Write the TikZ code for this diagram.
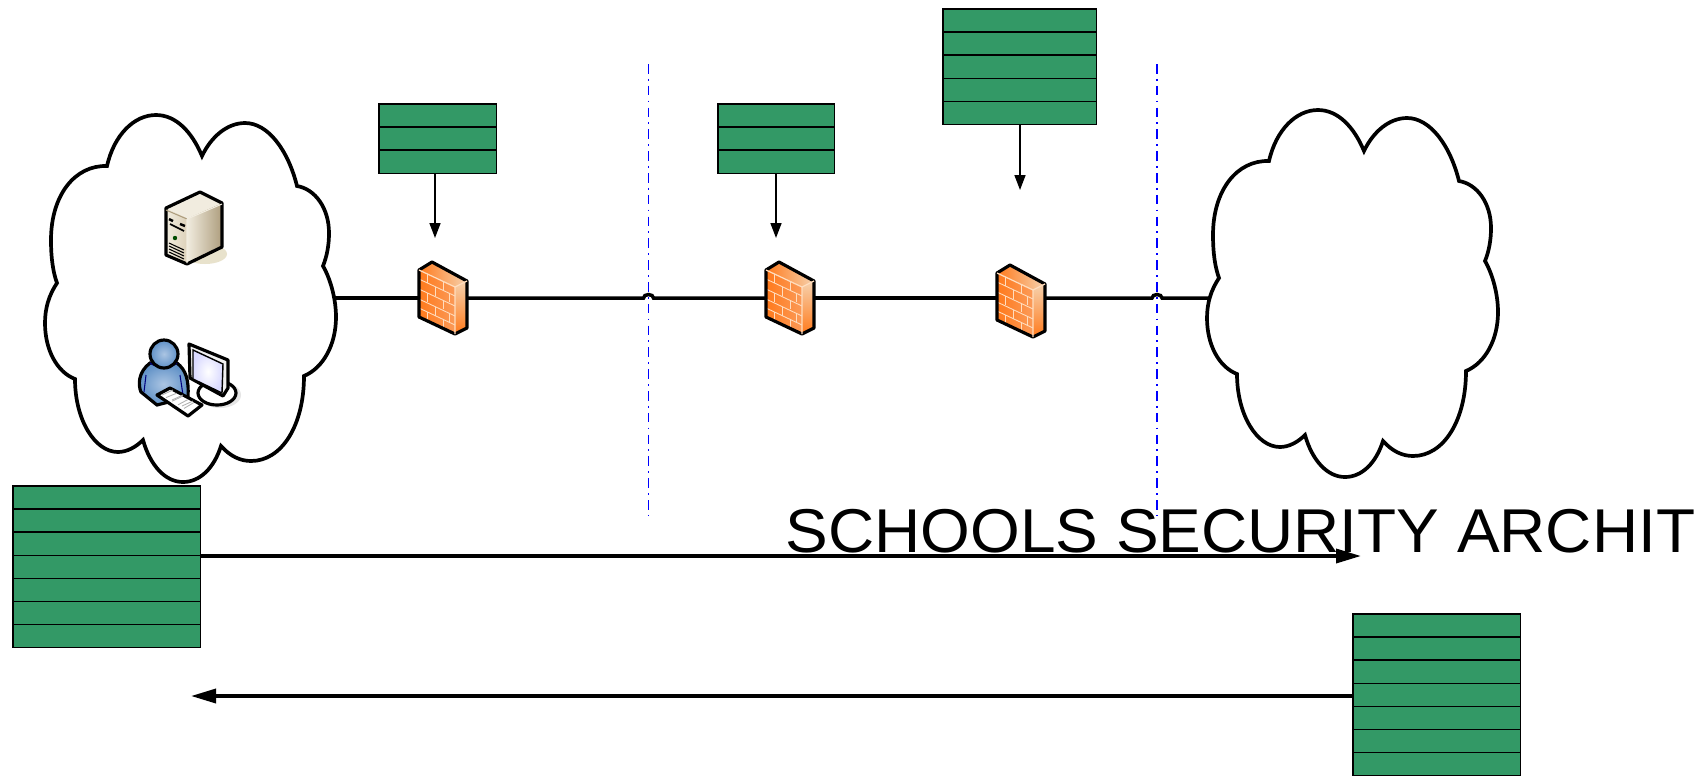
\documentclass[tikz,border=0pt]{standalone}
\usepackage{fontspec}
\setmainfont{Liberation Sans}
\usetikzlibrary{calc,arrows.meta,shapes.multipart}
\definecolor{stackgreen}{HTML}{339966}
\definecolor{fwdeep}{HTML}{FF7A1C}
\definecolor{fwmid}{HTML}{FB9A58}
\definecolor{fwpale}{HTML}{F6D2AE}
\definecolor{fwbrick}{HTML}{FFDDBE}
\definecolor{srvpale}{HTML}{F1ECDF}
\definecolor{srvmid}{HTML}{DDD2BA}
\definecolor{srvdark}{HTML}{AE9E7E}
\definecolor{srvshadow}{HTML}{E8E2CC}
\definecolor{userpale}{HTML}{ABC5E3}
\definecolor{userdeep}{HTML}{5F90C6}
\tikzset{
  cloudshape/.pic={
    \draw[cloudline] (202,156) .. controls (192,132) and (176,115) .. (156,115)
      .. controls (134,115) and (114,135) .. (107,166)
      .. controls (75,165) and (51,195) .. (51,240)
      .. controls (51,258) and (53,272) .. (57,283)
      .. controls (49,295) and (45,308) .. (45,323)
      .. controls (45,350) and (57,372) .. (75,379)
      .. controls (75,420) and (95,452) .. (118,452)
      .. controls (127,452) and (136,447) .. (143,440)
      .. controls (150,465) and (165,482) .. (183,482)
      .. controls (200,482) and (214,468) .. (221,446)
      .. controls (230,456) and (240,461) .. (251,461)
      .. controls (282,461) and (304,425) .. (304,376)
      .. controls (323,368) and (336,345) .. (336,317)
      .. controls (336,300) and (331,280) .. (323,266)
      .. controls (327,256) and (329,245) .. (329,233)
      .. controls (329,208) and (315,189) .. (297,186)
      .. controls (288,150) and (268,123) .. (245,123)
      .. controls (227,123) and (211,137) .. (202,156) -- cycle;
  },
  firewallicon/.pic={
    \shade[left color=fwdeep,right color=fwmid] (-24,-28) -- (12,-11) -- (12,36) -- (-24,19) -- cycle;
    \shade[left color=fwdeep,right color=fwpale] (-24,-28) -- (-11,-36) -- (24,-17) -- (12,-11) -- cycle;
    \shade[top color=fwpale,bottom color=fwdeep] (12,-11) -- (24,-17) -- (24,30) -- (12,36) -- cycle;
    \begin{scope}[shift={(-24,-28)},yslant=-0.472,draw=fwbrick,line width=0.25pt]
      \foreach \v in {9,19,29,38} \draw (0,\v) -- (36,\v);
      \foreach \u/\v in {8/0,24/0,16/9,30/9,8/19,24/19,16/29,30/29,8/38,24/38}
        \draw (\u,\v) -- (\u,\v+9);
    \end{scope}
    \draw[iconline] (-24,-28) -- (-11,-36) -- (24,-17) -- (24,30) -- (12,36) -- (-24,19) -- cycle;
    \draw[fwbrick,line width=0.35pt] (-24,-28) -- (12,-11) -- (24,-17) (12,-11) -- (12,36);
  },
  servericon/.pic={
    \fill[srvshadow] (205,254) ellipse (22 and 10);
    \shade[left color=srvpale,right color=srvmid] (166,208) -- (187,218) -- (187,264) -- (166,255) -- cycle;
    \shade[left color=srvpale,right color=srvdark] (187,218) -- (222,203) -- (222,247) -- (187,264) -- cycle;
    \fill[srvpale] (166,208) -- (200,192) -- (222,203) -- (187,218) -- cycle;
    \draw[line width=0.7pt] (169,219) -- (173,221) (180,224) -- (185,226);
    \draw[line width=0.5pt] (170,224) -- (184,231);
    \fill[black!70!green] (175,238) circle (2.2);
    \foreach \v in {247,250,253,256} \draw[line width=0.3pt] (169,\v-4) -- (184,\v+3);
    \draw[iconline] (166,208) -- (200,192) -- (222,203) -- (222,247) -- (187,264) -- (166,255) -- cycle;
    \draw[srvdark,line width=0.3pt] (166,210) -- (187,219);
    \draw[srvpale,line width=0.3pt] (187,219) -- (222,204) (187,219) -- (187,263);
  },
  usericon/.pic={
    \fill[black!10] (220,395) ellipse (21 and 13);
    \fill[black!10] (192,407) -- (204,405) -- (190,417) -- cycle;
    \draw[iconline,fill=white] (217,393) ellipse (19 and 12);
    \shade[draw=black,line width=0.9pt,inner color=userpale,outer color=userdeep]
      (141,392) .. controls (138,385) and (138,372) .. (150,363) -- (177,363) .. controls (186,370) and (189,380) .. (188,397) -- (157,405) -- cycle;
    \draw[blue!50!black,line width=0.4pt] (150,363) .. controls (160,369) and (168,369) .. (177,363);
    \draw[blue!50!black,line width=0.3pt] (146,375) -- (144,392) (180,375) -- (183,395);
    \shade[draw=black,line width=0.9pt,inner color=userpale,outer color=userdeep] (164,354) circle (14);
    \draw[iconline,fill=black!6] (189,344) -- (228,360) -- (228,388) -- (223,396) -- (190,378) -- cycle;
    \shade[draw=black,line width=0.4pt,inner color=white,outer color=blue!15!white] (193,350) -- (223,364) -- (222,393) -- (193,379) -- cycle;
    \draw[iconline,fill=white] (157,395) -- (170,388) -- (202,405) -- (188,416) -- cycle;
    \foreach \t in {0.2,0.4,0.6,0.8}
      \draw[black!30,line width=0.25pt] ($(160,394)!\t!(190,412)$) -- ($(171,390)!\t!(199,406)$);
    \draw[black!30,line width=0.25pt] (162,395) -- (173,390) (172,400) -- (183,395) (182,406) -- (193,401);
  }
}
\begin{document}
\begin{tikzpicture}[x=0.01cm,y=-0.01cm,
  >={Triangle[length=0.15cm,width=0.11cm]},
  cloudline/.style={line width=1.05pt,fill=white,miter limit=10},
  iconline/.style={line width=0.9pt,line join=round},
  netline/.style={line width=1pt},
  datastack/.style={rectangle split,rectangle split parts=#1,draw,fill=stackgreen,line width=0.35pt,
    inner sep=0pt,outer sep=0pt,anchor=north west,rectangle split empty part depth=0pt,
    rectangle split empty part height=0.218cm},
  narrowpart/.style={rectangle split empty part width=#1},
  fwbox/.style={minimum width=0.48cm,minimum height=0.72cm,inner sep=0pt,outer sep=0pt},
  zoneline/.style={blue,line width=0.35pt,dash pattern=on 2.7pt off 1.5pt on 0.5pt off 1.5pt},
  feedarrow/.style={->,line width=0.45pt},
  flowarrow/.style={-{Triangle[length=0.25cm,width=0.14cm]},line width=1pt}]
\useasboundingbox (0,0) rectangle (1694,781);

\pic at (0,0) {cloudshape};
\pic at (1162,-5) {cloudshape};
\pic at (0,0) {servericon};
\pic at (0,0) {usericon};

\coordinate (portl) at (334,298);
\coordinate (portr) at (1210,298);
\coordinate (jumpa) at (648.5,298);
\coordinate (jumpb) at (1157,298);
\node[fwbox] (fwa) at (443,298) {};
\node[fwbox] (fwb) at (790,298) {};
\node[fwbox] (fwc) at (1021,298) {};

\coordinate (zonea) at (648.5,64);
\coordinate (zoneb) at (1157,64);
\coordinate (zonec) at (648.5,516);
\coordinate (zoned) at (1157,516);
\draw[zoneline] (zonea) -- (zonec);
\draw[zoneline] (zoneb) -- (zoned);

\draw[netline] (portl) -- (fwa);
\draw[netline] (fwa) -- ($(jumpa)+(-5,0)$) arc (180:360:5 and 3.5) -- (fwb);
\draw[netline] (fwb) -- (fwc);
\draw[netline] (fwc) -- ($(jumpb)+(-5,0)$) arc (180:360:5 and 3.5) -- (portr);

\pic at (fwa) {firewallicon};
\pic at (fwb) {firewallicon};
\pic at ($(fwc)+(0,3)$) {firewallicon};

\node[datastack=3,narrowpart=0.985cm] (stacka) at (379,104) {};
\node[datastack=3,narrowpart=0.975cm] (stackb) at (718,104) {};
\node[datastack=5,narrowpart=1.346cm] (stackc) at (943,9) {};
\node[datastack=7,narrowpart=1.69cm] (stackd) at (13,486) {};
\node[datastack=7,narrowpart=1.486cm] (stacke) at (1353,614) {};

\coordinate (tipa) at (435,238);
\coordinate (tipb) at (776,238);
\coordinate (tipc) at (1020,190);
\coordinate (tipd) at (1361,556);
\coordinate (tipe) at (191,696);
\draw[feedarrow] (tipa |- stacka.south) -- (tipa);
\draw[feedarrow] (tipb |- stackb.south) -- (tipb);
\draw[feedarrow] (tipc |- stackc.south) -- (tipc);
\draw[flowarrow] (stackd.east |- tipd) -- (tipd);
\draw[flowarrow] (stacke.west |- tipe) -- (tipe);

\node[anchor=base west,inner sep=0pt,xscale=1.033,transform shape,font=\fontsize{17.6pt}{20pt}\selectfont] (title) at (785,552) {SCHOOLS SECURITY ARCHIT};
\end{tikzpicture}
\end{document}
